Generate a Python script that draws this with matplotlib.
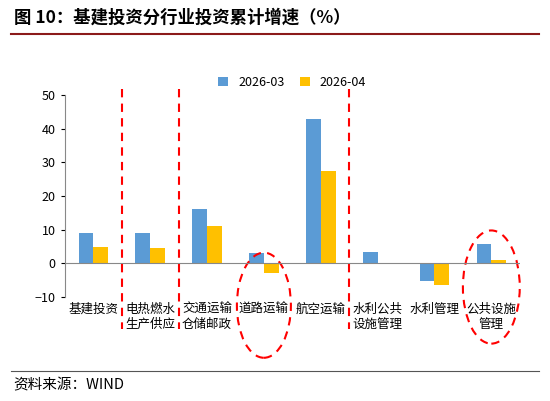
import matplotlib
matplotlib.use("Agg")
import matplotlib.pyplot as plt
import numpy as np
from matplotlib.patches import Ellipse
from matplotlib.lines import Line2D

plt.rcParams['font.family'] = ['Noto Sans CJK SC', 'DejaVu Sans']

categories = ["基建投资", "电热燃水\n生产供应", "交通运输\n仓储邮政", "道路运输", "航空运输",
              "水利公共\n设施管理", "水利管理", "公共设施\n管理"]
s_2603 = [9.0, 9.0, 16.3, 3.0, 43.0, 3.5, -5.3, 5.7]
s_2604 = [5.0, 4.5, 11.0, -2.8, 27.3, 0.0, -6.3, 1.0]
series_names = ["2026-03", "2026-04"]
yticks = [-10, 0, 10, 20, 30, 40, 50]

fig = plt.figure(figsize=(5.5, 4.01), dpi=100)
ax = fig.add_axes([0.118, 0.259, 0.827, 0.504])
x = np.arange(len(categories))
w = 0.26
ax.bar(x - w/2, s_2603, w, color="#5B9BD5", label=series_names[0])
ax.bar(x + w/2, s_2604, w, color="#FFC000", label=series_names[1])
ax.set_xlim(-0.5, len(categories) - 0.5)
ax.set_ylim(-10, 50)
ax.set_yticks(yticks)
ax.set_xticks(x)
ax.set_xticklabels(categories, fontsize=9)
ax.tick_params(axis='y', labelsize=9, length=3)
ax.tick_params(axis='x', length=0, pad=4)
for s in ["top", "right", "bottom"]:
    ax.spines[s].set_visible(False)
ax.spines["left"].set_color("#888888")
ax.axhline(0, color="#888888", lw=0.8)
ax.legend(loc="upper center", bbox_to_anchor=(0.5, 1.15), ncol=2, frameon=False,
          fontsize=9, handlelength=0.8, columnspacing=1.2)

trans = ax.get_xaxis_transform()
for xb in [0.5, 1.5, 4.5]:
    ax.add_line(Line2D([xb, xb], [1.03, -0.16], transform=trans, color="red",
                       ls=(0, (4, 3)), lw=1.5, clip_on=False))
for xc, yc, wd, ht in [(3, -0.04, 0.95, 0.52), (7, 0.05, 1.0, 0.56)]:
    ax.add_patch(Ellipse((xc, yc), wd, ht, transform=trans, fill=False, ec="red",
                         ls=(0, (4, 3)), lw=1.5, clip_on=False))

fig.text(0.025, 0.955, "图 10：基建投资分行业投资累计增速（%）", fontsize=12.5,
         fontweight="bold", va="center")
fig.add_artist(Line2D([0.02, 0.98], [0.915, 0.915], color="#8B1A1A", lw=1.5))
fig.add_artist(Line2D([0.02, 0.98], [0.075, 0.075], color="#555555", lw=0.8))
fig.text(0.025, 0.04, "资料来源：WIND", fontsize=10.5, style="italic", va="center")

fig.savefig("out.png", dpi=100)
